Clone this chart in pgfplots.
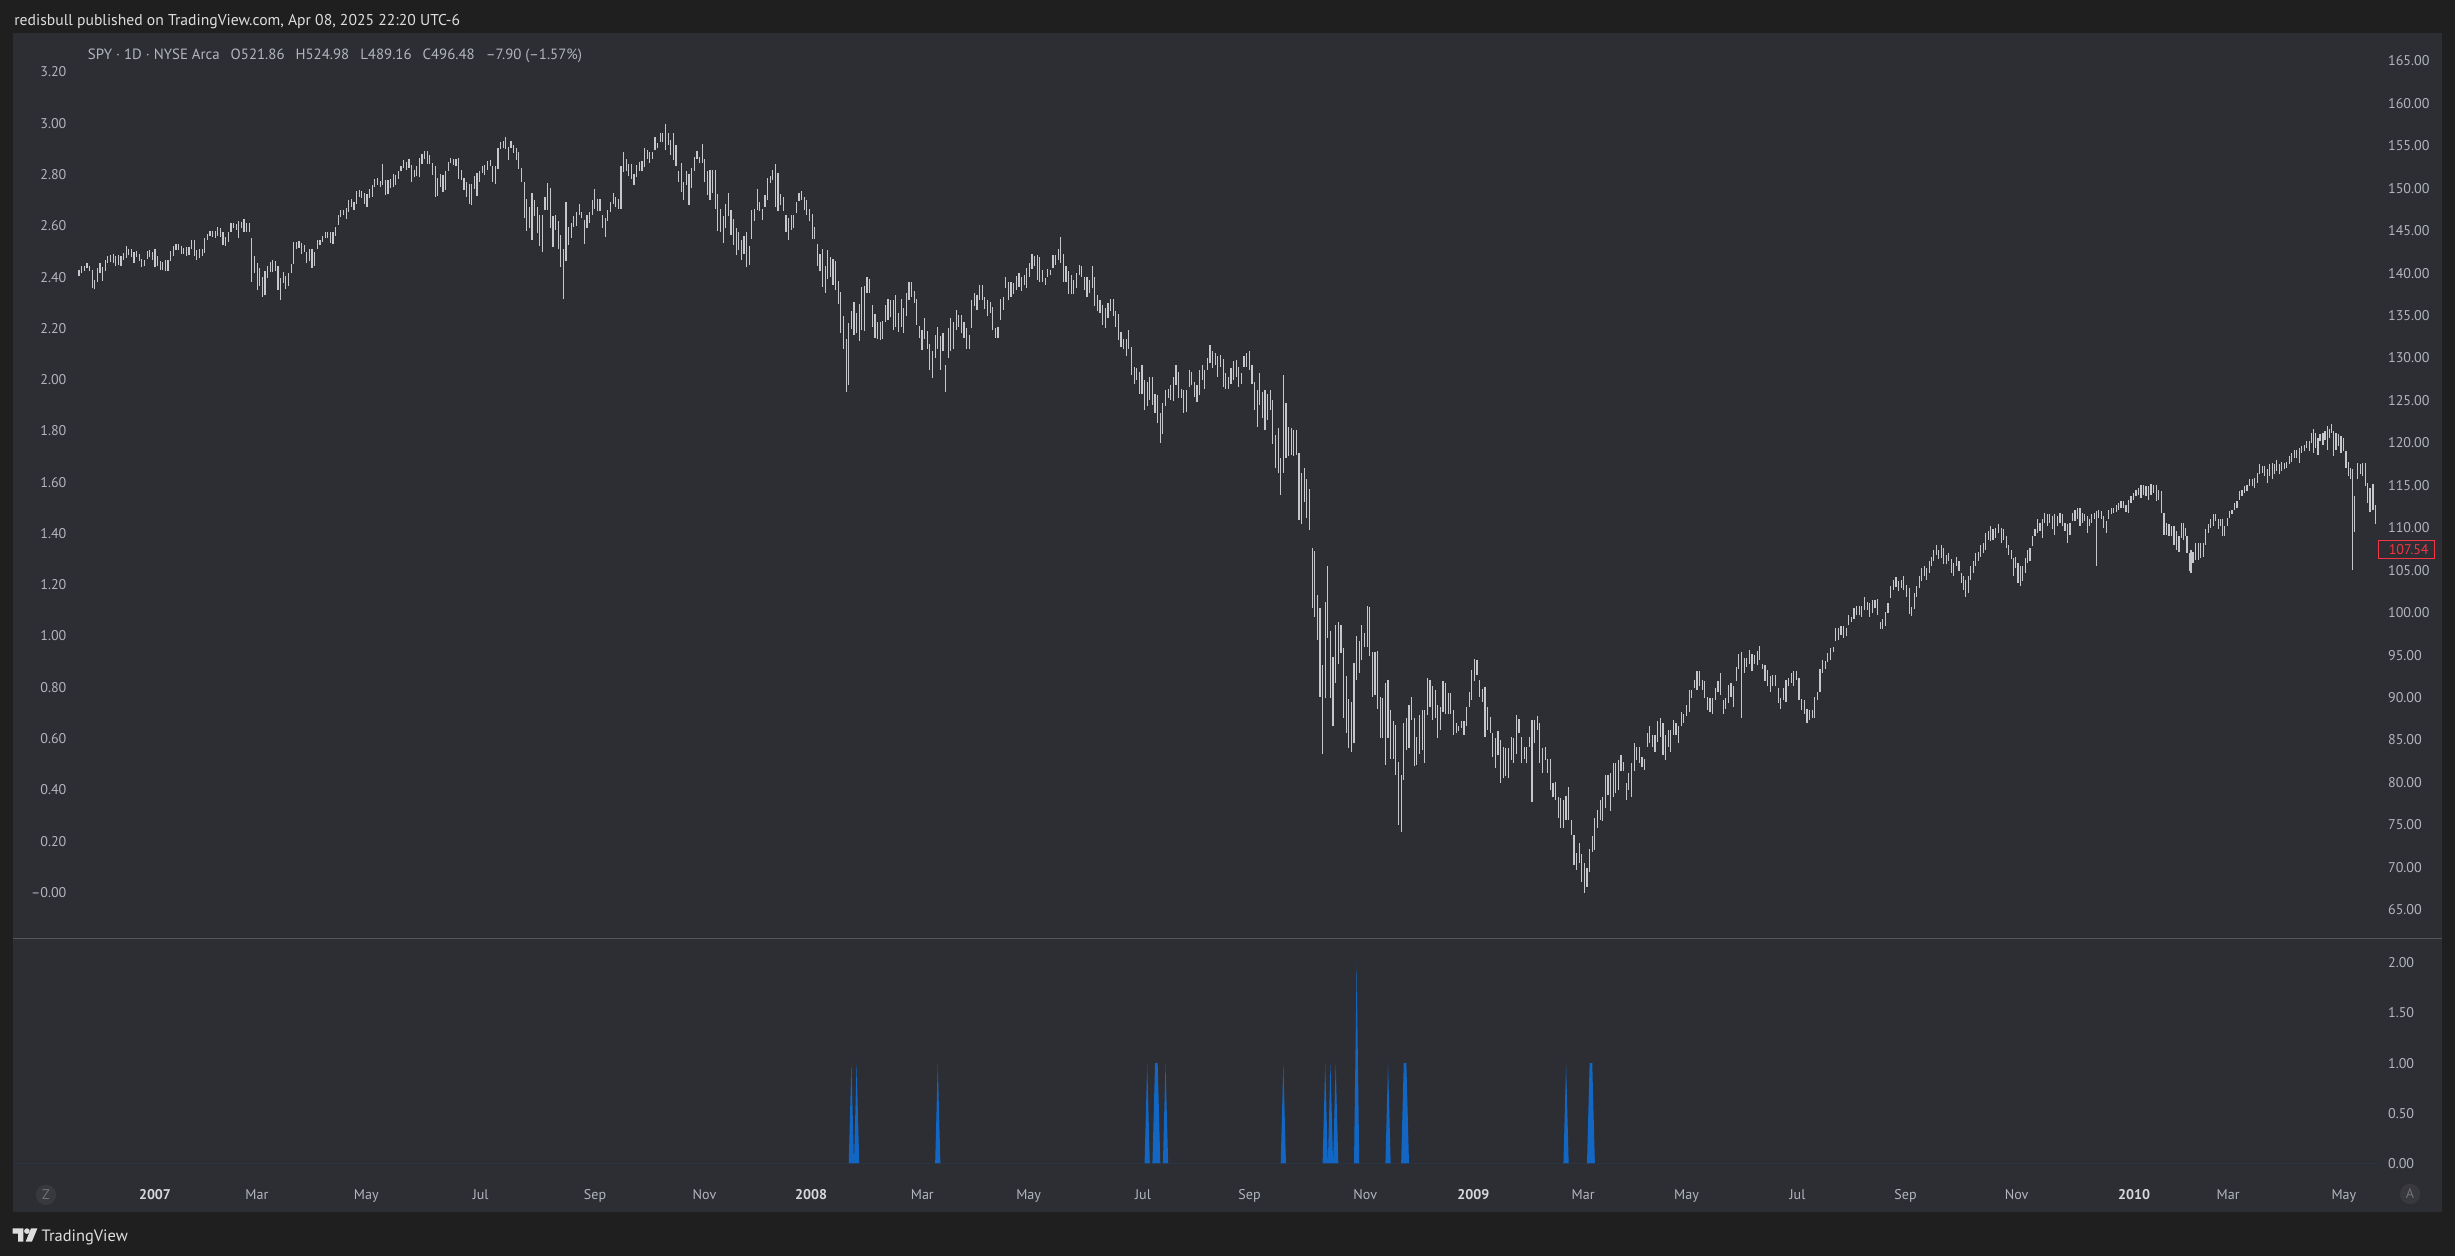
\documentclass[border=0pt]{standalone}
\usepackage{pgfplots}
\pgfplotsset{compat=1.18}
\usepackage{pgfplotstable}
\usepackage{fontspec}
\setmainfont{PT Sans}
\definecolor{outerbg}{RGB}{31,31,31}
\definecolor{panelbg}{RGB}{45,46,51}
\definecolor{labcol}{RGB}{178,181,190}
\definecolor{yearcol}{RGB}{214,216,222}
\definecolor{dimcol}{RGB}{112,115,125}
\definecolor{barcol}{RGB}{198,199,203}
\definecolor{spike}{RGB}{18,102,196}
\definecolor{sepcol}{RGB}{84,85,91}
\definecolor{redc}{RGB}{242,54,69}
\definecolor{headcol}{RGB}{222,222,222}

\pgfplotstableread[row sep=\\]{
x l h\\
0 139.7 140.4\\ 1 140.0 140.8\\ 2 140.3 140.9\\ 3 140.6 141.2\\ 4 140.2 140.9\\
5 138.2 140.4\\ 6 138.1 139.2\\ 7 139.0 140.6\\ 8 140.0 141.2\\ 9 139.1 140.7\\
10 140.2 141.6\\ 11 141.2 142.0\\ 12 141.3 142.1\\ 13 141.2 142.3\\ 14 140.8 142.0\\
15 141.0 142.1\\ 16 140.9 142.0\\ 17 141.6 142.4\\ 18 141.8 143.2\\ 19 142.1 142.8\\
20 141.9 142.8\\ 21 141.2 142.5\\ 22 141.9 142.6\\ 23 141.4 142.3\\ 24 140.7 141.7\\
25 140.8 141.6\\ 26 141.7 142.6\\ 27 141.9 142.7\\ 28 141.5 142.5\\ 29 140.7 142.8\\
30 140.9 142.0\\ 31 140.4 141.4\\ 32 140.4 141.3\\ 33 140.3 141.5\\ 34 140.3 141.6\\
35 141.4 142.6\\ 36 142.0 143.2\\ 37 142.7 143.4\\ 38 142.7 143.4\\ 39 142.3 143.2\\
40 142.3 143.0\\ 41 142.0 143.1\\ 42 142.2 143.1\\ 43 142.8 143.9\\ 44 142.0 143.9\\
45 141.6 142.7\\ 46 141.8 142.9\\ 47 142.0 142.9\\ 48 142.4 144.1\\ 49 143.9 144.6\\
50 144.4 145.0\\ 51 144.3 145.0\\ 52 144.2 145.0\\ 53 144.4 145.4\\ 54 144.3 145.3\\
55 143.3 144.9\\ 56 143.2 144.3\\ 57 143.7 144.9\\ 58 144.9 145.9\\ 59 145.3 145.9\\
60 145.1 145.8\\ 61 144.1 146.2\\ 62 145.3 146.0\\ 63 144.8 146.4\\ 64 144.8 145.9\\
65 144.8 145.9\\ 66 139.0 144.2\\ 67 140.0 142.0\\ 68 138.0 141.2\\ 69 138.5 140.6\\
70 137.2 139.6\\ 71 137.4 140.2\\ 72 139.4 140.8\\ 73 140.1 141.3\\ 74 140.1 141.5\\
75 140.2 141.4\\ 76 138.0 140.8\\ 77 136.8 139.4\\ 78 138.9 140.1\\ 79 138.1 139.7\\
80 138.5 140.0\\ 81 140.0 141.1\\ 82 141.1 143.7\\ 83 142.8 143.7\\ 84 143.0 143.8\\
85 142.3 143.6\\ 86 142.5 143.3\\ 87 141.2 142.5\\ 88 141.4 142.8\\ 89 140.6 142.8\\
90 140.9 142.5\\ 91 142.9 143.9\\ 92 143.3 143.9\\ 93 143.7 144.4\\ 94 144.1 144.8\\
95 144.2 144.9\\ 96 143.6 144.8\\ 97 143.4 144.9\\ 98 144.4 145.4\\ 99 145.7 146.9\\
100 146.6 147.4\\ 101 146.8 147.5\\ 102 146.4 147.7\\ 103 147.2 148.6\\ 104 147.8 148.7\\
105 147.4 148.4\\ 106 148.2 149.7\\ 107 149.0 149.8\\ 108 148.9 149.7\\ 109 148.2 149.5\\
110 147.8 149.3\\ 111 148.9 149.9\\ 112 149.0 150.4\\ 113 150.1 151.1\\ 114 150.4 151.2\\
115 150.1 150.9\\ 116 150.4 152.9\\ 117 149.2 151.0\\ 118 149.3 151.0\\ 119 150.0 151.1\\
120 150.2 151.7\\ 121 150.4 151.6\\ 122 151.1 152.0\\ 123 152.0 152.6\\ 124 152.4 153.3\\
125 152.2 153.1\\ 126 152.4 153.4\\ 127 150.8 152.7\\ 128 151.3 152.2\\ 129 151.4 152.6\\
130 151.3 153.6\\ 131 152.9 154.0\\ 132 153.4 154.4\\ 133 152.9 154.4\\ 134 152.9 153.9\\
135 151.6 153.0\\ 136 149.0 152.6\\ 137 149.1 151.2\\ 138 150.2 151.7\\ 139 149.6 151.6\\
140 149.8 152.0\\ 141 152.0 153.1\\ 142 153.0 153.6\\ 143 152.7 153.4\\ 144 152.6 153.4\\
145 151.1 153.6\\ 146 151.0 152.2\\ 147 149.8 151.2\\ 148 149.0 150.7\\ 149 148.2 150.5\\
150 148.0 150.5\\ 151 149.9 151.5\\ 152 149.1 151.8\\ 153 150.8 152.0\\ 154 151.8 152.6\\
155 151.6 152.7\\ 156 152.2 153.2\\ 157 152.6 153.3\\ 158 150.8 152.6\\ 159 150.5 152.6\\
160 152.3 154.8\\ 161 154.6 155.5\\ 162 154.7 155.6\\ 163 154.6 156.1\\ 164 153.3 154.9\\
165 154.8 155.6\\ 166 154.2 155.1\\ 167 153.3 154.7\\ 168 152.3 154.3\\ 169 150.8 152.4\\
170 146.5 150.8\\ 171 145.0 148.8\\ 172 145.3 147.8\\ 173 143.9 149.4\\ 174 146.7 148.6\\
175 144.7 147.8\\ 176 143.2 146.9\\ 177 142.5 146.9\\ 178 147.5 149.0\\ 179 147.5 150.6\\
180 145.3 150.0\\ 181 143.1 146.7\\ 182 145.1 146.9\\ 183 142.8 146.1\\ 184 140.7 144.5\\
185 137.0 142.9\\ 186 141.4 148.4\\ 187 143.3 145.5\\ 188 144.2 145.9\\ 189 145.5 146.7\\
190 145.6 147.2\\ 191 146.9 148.2\\ 192 146.5 147.2\\ 193 143.4 146.3\\ 194 145.3 146.9\\
195 145.9 147.2\\ 196 146.9 148.6\\ 197 147.6 149.9\\ 198 147.3 148.7\\ 199 147.3 148.7\\
200 145.3 146.9\\ 201 144.3 146.5\\ 202 146.2 147.4\\ 203 147.2 148.4\\ 204 148.2 149.4\\
205 147.8 149.0\\ 206 147.6 148.8\\ 207 147.6 152.6\\ 208 151.9 154.3\\ 209 152.1 153.5\\
210 151.4 152.9\\ 211 151.1 152.9\\ 212 150.4 151.7\\ 213 151.3 152.8\\ 214 152.0 153.1\\
215 152.1 153.2\\ 216 152.5 154.7\\ 217 153.5 154.5\\ 218 153.0 154.3\\ 219 153.5 154.3\\
220 154.5 156.1\\ 221 154.7 155.3\\ 222 155.5 156.5\\ 223 155.5 156.5\\ 224 154.5 157.6\\
225 155.1 156.5\\ 226 153.9 155.7\\ 227 153.3 156.5\\ 228 152.6 155.1\\ 229 150.8 152.0\\
230 149.6 153.0\\ 231 148.6 150.8\\ 232 150.4 152.0\\ 233 148.0 151.7\\ 234 150.0 152.4\\
235 152.0 153.7\\ 236 153.5 154.4\\ 237 153.0 153.7\\ 238 153.0 155.2\\ 239 150.7 153.4\\
240 149.2 152.1\\ 241 148.6 152.2\\ 242 149.4 152.2\\ 243 147.6 152.2\\ 244 145.0 149.3\\
245 144.9 147.6\\ 246 143.6 146.7\\ 247 145.3 148.2\\ 248 146.7 149.4\\ 249 144.5 147.4\\
250 143.3 146.4\\ 251 142.1 145.3\\ 252 142.7 144.9\\ 253 141.6 143.9\\ 254 142.3 144.4\\
255 140.7 144.8\\ 256 141.0 143.2\\ 257 144.0 147.4\\ 258 146.2 147.6\\ 259 147.4 149.9\\
260 147.3 148.4\\ 261 146.3 147.6\\ 262 147.8 149.2\\ 263 148.6 151.2\\ 264 150.6 151.5\\
265 151.0 152.2\\ 266 147.8 152.9\\ 267 147.3 151.8\\ 268 148.0 149.3\\ 269 147.3 149.0\\
270 144.9 146.9\\ 271 143.9 146.5\\ 272 145.1 146.9\\ 273 145.3 146.9\\ 274 147.1 148.4\\
275 148.5 149.4\\ 276 148.6 149.7\\ 277 147.4 149.0\\ 278 146.9 148.6\\ 279 146.1 147.6\\
280 144.0 147.0\\ 281 144.0 145.5\\ 282 140.9 143.4\\ 283 140.2 142.3\\ 284 138.4 142.8\\
285 137.7 140.8\\ 286 139.3 142.7\\ 287 139.6 141.9\\ 288 138.6 141.7\\ 289 138.0 141.4\\
290 136.4 139.1\\ 291 133.0 137.8\\ 292 131.1 135.0\\ 293 126.0 132.3\\ 294 126.8 134.1\\
295 133.4 135.5\\ 296 132.7 136.6\\ 297 132.9 135.3\\ 298 132.0 136.4\\ 299 133.3 138.4\\
300 133.2 138.5\\ 301 137.7 139.5\\ 302 137.7 139.3\\ 303 133.7 136.3\\ 304 132.4 135.2\\
305 132.2 134.3\\ 306 132.1 134.3\\ 307 132.3 134.4\\ 308 134.3 136.3\\ 309 134.5 137.0\\
310 134.8 136.9\\ 311 133.3 136.8\\ 312 133.7 137.4\\ 313 133.1 135.3\\ 314 133.7 137.0\\
315 132.9 135.9\\ 316 135.0 137.7\\ 317 136.8 139.0\\ 318 137.2 139.0\\ 319 136.5 137.9\\
320 133.9 136.9\\ 321 132.4 133.8\\ 322 130.9 133.3\\ 323 132.2 134.7\\ 324 131.1 133.2\\
325 128.6 131.7\\ 326 127.6 130.8\\ 327 130.0 132.7\\ 328 131.1 133.7\\ 329 128.6 132.6\\
330 130.8 132.9\\ 331 126.0 129.2\\ 332 130.0 133.5\\ 333 130.8 134.7\\ 334 131.1 134.3\\
335 133.3 135.7\\ 336 133.7 135.1\\ 337 132.9 135.1\\ 338 132.4 134.3\\ 339 131.1 133.5\\
340 131.1 132.7\\ 341 133.5 136.8\\ 342 136.1 137.7\\ 343 135.7 137.4\\ 344 136.8 138.6\\
345 136.8 138.6\\ 346 135.8 137.2\\ 347 134.9 136.8\\ 348 135.3 136.6\\ 349 133.3 136.0\\
350 132.4 133.5\\ 351 132.4 133.7\\ 352 134.5 136.9\\ 353 135.7 137.2\\ 354 138.2 139.6\\
355 136.8 139.0\\ 356 137.2 139.0\\ 357 137.6 138.8\\ 358 138.0 139.7\\ 359 138.4 140.0\\
360 137.9 139.6\\ 361 138.6 139.8\\ 362 138.2 140.6\\ 363 139.6 141.2\\ 364 140.5 142.3\\
365 140.8 142.0\\ 366 139.2 142.1\\ 367 139.0 141.9\\ 368 139.0 140.4\\ 369 138.6 139.4\\
370 139.6 140.5\\ 371 139.8 140.4\\ 372 140.6 142.1\\ 373 141.0 142.1\\ 374 141.6 142.8\\
375 141.2 144.3\\ 376 139.0 142.3\\ 377 139.0 140.8\\ 378 137.6 140.2\\ 379 137.6 139.8\\
380 137.6 139.2\\ 381 138.2 140.0\\ 382 139.8 141.0\\ 383 139.6 140.8\\ 384 138.0 139.6\\
385 137.2 139.6\\ 386 137.7 139.2\\ 387 138.2 140.8\\ 388 136.1 139.6\\ 389 135.5 137.4\\
390 135.3 136.8\\ 391 133.9 136.3\\ 392 133.5 135.9\\ 393 134.7 136.5\\ 394 135.5 137.0\\
395 134.9 137.0\\ 396 133.7 135.5\\ 397 132.1 135.2\\ 398 131.3 133.1\\ 399 131.1 132.3\\
400 130.2 132.3\\ 401 131.1 133.3\\ 402 128.0 131.3\\ 403 127.0 129.0\\ 404 127.4 128.8\\
405 125.8 128.4\\ 406 125.8 129.2\\ 407 123.9 127.4\\ 408 124.3 127.2\\ 409 125.1 127.8\\
410 124.5 127.8\\ 411 123.5 125.8\\ 412 122.3 125.6\\ 413 120.0 123.5\\ 414 121.1 124.7\\
415 124.3 126.2\\ 416 125.3 126.4\\ 417 125.1 126.8\\ 418 124.9 127.8\\ 419 126.8 129.2\\
420 125.3 128.4\\ 421 125.3 126.4\\ 422 123.5 126.2\\ 423 123.7 126.2\\ 424 126.6 128.6\\
425 126.8 128.4\\ 426 125.4 127.2\\ 427 124.8 126.8\\ 428 125.6 128.6\\ 429 127.4 129.2\\
430 126.4 128.6\\ 431 128.6 130.0\\ 432 129.4 131.5\\ 433 128.8 130.8\\ 434 129.2 130.6\\
435 127.8 130.2\\ 436 129.0 130.4\\ 437 126.6 129.9\\ 438 126.4 128.2\\ 439 126.4 127.8\\
440 127.0 128.8\\ 441 127.4 129.6\\ 442 127.8 129.8\\ 443 126.6 129.0\\ 444 127.0 128.2\\
445 129.0 130.2\\ 446 129.0 130.6\\ 447 128.6 130.8\\ 448 127.0 129.2\\ 449 123.9 127.2\\
450 121.9 126.2\\ 451 124.5 128.2\\ 452 122.9 126.0\\ 453 121.5 126.2\\ 454 122.7 125.8\\
455 123.9 126.2\\ 456 119.9 125.0\\ 457 117.0 120.9\\ 458 116.4 121.7\\ 459 113.9 118.2\\
460 116.5 128.0\\ 461 118.2 124.7\\ 462 118.4 121.9\\ 463 118.6 121.7\\ 464 118.4 121.5\\
465 118.6 121.5\\ 466 110.9 118.8\\ 467 110.5 116.5\\ 468 113.0 117.0\\ 469 111.1 115.8\\
470 109.7 114.6\\ 471 100.5 107.6\\ 472 99.5 107.3\\ 473 96.8 102.1\\ 474 90.1 100.5\\
475 83.4 93.8\\ 476 89.9 101.3\\ 477 97.0 105.5\\ 478 89.9 97.8\\ 479 86.6 94.8\\
480 91.7 98.5\\ 481 94.0 98.9\\ 482 95.2 98.5\\ 483 87.6 95.8\\ 484 85.8 92.5\\
485 84.0 89.8\\ 486 83.6 89.5\\ 487 84.6 94.1\\ 488 92.1 97.2\\ 489 92.9 96.6\\
490 94.4 98.5\\ 491 96.0 97.6\\ 492 96.0 100.8\\ 493 94.9 100.7\\ 494 90.1 95.4\\
495 90.3 95.4\\ 496 88.7 95.5\\ 497 85.2 90.1\\ 498 85.2 90.0\\ 499 82.1 91.7\\
500 85.2 92.1\\ 501 82.8 88.5\\ 502 82.8 87.2\\ 503 80.9 86.8\\ 504 75.0 82.4\\
505 74.2 80.9\\ 506 80.3 87.0\\ 507 83.8 87.6\\ 508 84.0 89.1\\ 509 87.4 90.1\\
510 81.9 87.6\\ 511 82.1 85.4\\ 512 83.4 87.9\\ 513 83.8 88.5\\ 514 82.3 88.5\\
515 87.9 92.3\\ 516 88.9 92.1\\ 517 87.4 91.3\\ 518 87.6 90.9\\ 519 85.2 89.1\\
520 86.2 88.9\\ 521 88.3 91.9\\ 522 88.1 91.7\\ 523 88.1 90.5\\ 524 88.1 90.5\\
525 85.6 88.5\\ 526 85.8 87.0\\ 527 86.0 86.6\\ 528 86.4 87.2\\ 529 85.6 87.2\\
530 86.6 88.9\\ 531 88.9 90.7\\ 532 89.7 93.2\\ 533 91.9 94.5\\ 534 92.7 94.4\\
535 90.1 92.1\\ 536 89.5 91.0\\ 537 85.4 91.2\\ 538 86.2 88.9\\ 539 85.8 87.7\\
540 83.0 85.8\\ 541 81.7 85.2\\ 542 83.2 86.0\\ 543 79.9 85.0\\ 544 80.5 84.2\\
545 80.7 84.0\\ 546 80.5 84.0\\ 547 82.6 85.4\\ 548 82.3 85.2\\ 549 83.4 87.9\\
550 85.8 87.5\\ 551 82.3 85.4\\ 552 82.8 84.2\\ 553 82.3 84.2\\ 554 84.2 85.3\\
555 77.7 87.4\\ 556 84.6 87.4\\ 557 86.2 87.8\\ 558 82.3 87.0\\ 559 81.1 84.0\\
560 82.6 84.2\\ 561 81.1 82.8\\ 562 79.1 82.8\\ 563 78.3 79.9\\ 564 77.9 80.1\\
565 75.8 78.3\\ 566 74.6 78.1\\ 567 74.6 77.9\\ 568 75.6 78.4\\ 569 75.6 79.5\\
570 73.8 75.6\\ 571 70.3 73.8\\ 572 69.7 71.7\\ 573 70.5 72.8\\ 574 68.3 71.6\\
575 67.0 70.5\\ 576 67.7 69.9\\ 577 69.4 72.2\\ 578 71.8 73.7\\ 579 72.0 75.8\\
580 74.6 76.8\\ 581 75.6 77.9\\ 582 75.4 78.3\\ 583 77.0 80.9\\ 584 78.5 80.9\\
585 76.6 81.1\\ 586 78.3 82.3\\ 587 78.7 82.3\\ 588 79.1 82.6\\ 589 81.3 83.2\\
590 81.3 82.4\\ 591 77.9 79.9\\ 592 79.1 81.1\\ 593 78.3 82.3\\ 594 81.3 84.6\\
595 82.6 84.2\\ 596 82.3 84.2\\ 597 81.8 83.0\\ 598 81.5 82.8\\ 599 84.2 85.8\\
600 84.6 86.6\\ 601 84.2 85.6\\ 602 83.6 85.6\\ 603 84.8 87.2\\ 604 85.4 87.6\\
605 83.2 87.0\\ 606 82.6 85.6\\ 607 84.2 86.2\\ 608 83.6 86.2\\ 609 85.6 87.4\\
610 85.6 87.0\\ 611 84.6 86.6\\ 612 86.6 88.3\\ 613 87.0 88.1\\ 614 87.8 89.1\\
615 88.3 90.9\\ 616 89.9 90.9\\ 617 91.1 92.1\\ 618 90.9 93.1\\ 619 91.3 93.1\\
620 90.9 92.1\\ 621 89.9 91.9\\ 622 88.5 90.1\\ 623 88.3 89.9\\ 624 88.1 89.9\\
625 89.7 91.1\\ 626 90.7 91.9\\ 627 90.3 92.9\\ 628 88.1 89.7\\ 629 88.7 89.9\\
630 89.3 91.5\\ 631 90.1 91.7\\ 632 88.9 91.3\\ 633 91.9 93.6\\ 634 93.4 95.1\\
635 87.6 95.4\\ 636 92.9 94.6\\ 637 93.6 94.6\\ 638 94.0 95.6\\ 639 93.1 95.1\\
640 94.0 95.0\\ 641 93.8 95.5\\ 642 94.4 96.1\\ 643 93.4 94.0\\ 644 91.9 93.8\\
645 91.3 93.2\\ 646 90.7 92.5\\ 647 91.3 92.7\\ 648 91.3 92.7\\ 649 89.3 91.1\\
650 88.7 89.9\\ 651 89.7 91.1\\ 652 89.5 92.1\\ 653 91.3 92.3\\ 654 91.7 92.9\\
655 91.3 93.1\\ 656 92.1 93.1\\ 657 89.7 92.3\\ 658 88.5 89.8\\ 659 88.1 89.7\\
660 87.0 88.7\\ 661 87.4 88.5\\ 662 87.6 88.5\\ 663 87.6 90.1\\ 664 89.7 90.7\\
665 90.7 93.4\\ 666 92.9 94.4\\ 667 93.4 94.3\\ 668 94.2 95.2\\ 669 94.4 95.8\\
670 95.4 96.0\\ 671 96.6 98.2\\ 672 96.8 98.2\\ 673 97.4 98.4\\ 674 97.0 98.4\\
675 97.2 98.2\\ 676 98.5 99.7\\ 677 98.9 99.5\\ 678 99.3 100.5\\ 679 99.7 100.8\\
680 99.7 100.8\\ 681 99.5 100.8\\ 682 100.3 101.9\\ 683 100.3 101.3\\ 684 99.5 101.1\\
685 99.9 101.5\\ 686 100.5 101.5\\ 687 99.7 101.6\\ 688 98.1 98.9\\ 689 98.1 99.3\\
690 98.4 100.1\\ 691 99.9 101.1\\ 692 101.7 103.1\\ 693 102.7 103.9\\ 694 103.0 104.2\\
695 102.5 103.7\\ 696 102.9 103.9\\ 697 102.7 104.3\\ 698 101.9 103.3\\
699.1 99.8 102.9\\ 700.0 99.6 100.7\\ 701.0 100.4 102.3\\ 702.0 101.9 103.1\\ 702.9 102.9 104.3\\
703.9 103.7 105.3\\ 704.8 104.3 105.5\\ 705.8 103.9 105.3\\ 706.7 104.7 106.1\\ 707.5 105.5 106.6\\
708.5 106.1 107.4\\ 709.5 106.8 108.0\\ 710.4 106.3 107.4\\ 711.4 106.4 108.0\\ 712.3 105.7 107.6\\
713.3 105.7 106.8\\ 714.2 106.1 107.0\\ 715.2 104.7 106.3\\ 716.1 104.3 105.9\\ 717.1 105.5 106.6\\
718.1 104.9 106.1\\ 719.0 103.5 104.7\\ 719.8 102.7 104.3\\ 720.6 101.9 103.9\\ 721.6 102.3 104.3\\
722.6 103.9 105.5\\ 723.5 104.7 106.1\\ 724.5 105.5 107.0\\ 725.4 106.1 107.2\\ 726.4 106.6 108.0\\
727.3 107.0 108.2\\ 728.3 107.4 109.4\\ 729.2 108.6 109.6\\ 730.2 108.4 110.2\\ 731.1 108.6 109.8\\
732.1 108.8 110.0\\ 733.3 109.4 110.4\\ 734.3 108.2 110.0\\ 735.2 108.6 109.8\\ 736.2 107.6 109.0\\
737.0 106.8 108.0\\ 738.0 106.3 107.4\\ 738.8 104.3 106.4\\ 739.7 105.3 106.6\\ 740.6 103.5 105.9\\
741.5 103.1 105.5\\ 742.5 103.7 105.5\\ 743.4 104.7 106.4\\ 744.2 105.9 107.4\\ 745.2 106.1 107.6\\
746.1 107.8 109.0\\ 747.1 109.0 109.8\\ 748.1 109.4 111.0\\ 749.0 109.6 110.6\\ 750.0 108.8 111.0\\
750.9 110.6 111.8\\ 751.9 110.2 111.6\\ 752.8 110.6 111.6\\ 753.8 109.8 111.4\\ 754.7 109.1 111.6\\
755.7 110.2 111.4\\ 756.7 110.6 111.8\\ 757.6 110.2 111.6\\ 758.6 109.6 110.6\\ 759.5 108.2 110.4\\
760.5 109.2 110.6\\ 761.4 110.8 111.8\\ 762.4 110.8 112.1\\ 763.3 111.0 112.3\\ 764.3 110.2 112.3\\
765.3 110.6 111.8\\ 766.1 110.8 111.6\\ 767.1 109.4 111.4\\ 768.0 110.2 111.0\\ 768.8 110.6 111.6\\
769.8 111.0 111.8\\ 770.6 105.5 112.0\\ 771.5 111.2 112.1\\ 772.5 111.0 112.0\\ 773.4 110.0 111.4\\
774.4 109.4 110.8\\ 775.2 111.0 112.1\\ 776.2 111.6 112.3\\ 777.1 111.8 112.3\\ 778.1 111.9 112.7\\
779.0 112.1 112.9\\ 780.0 112.3 113.1\\ 781.0 112.3 113.1\\ 781.9 111.9 112.7\\ 782.9 111.8 113.3\\
783.8 112.9 113.7\\ 784.8 113.3 114.1\\ 785.7 113.7 114.5\\ 786.7 113.9 114.7\\ 787.6 113.5 115.0\\
788.6 113.9 115.1\\ 789.5 113.7 114.9\\ 790.5 113.3 114.9\\ 791.4 113.9 115.2\\ 792.4 114.1 115.1\\
793.4 113.1 115.1\\ 794.2 113.3 114.5\\ 795.3 111.8 114.3\\ 796.4 109.2 111.8\\ 797.3 109.2 110.6\\
798.3 109.0 110.4\\ 799.2 109.0 110.2\\ 800.2 108.0 110.2\\ 801.1 107.4 109.6\\ 802.1 107.2 109.0\\
803.1 108.8 110.6\\ 803.9 108.6 110.6\\ 804.5 109.0 110.0\\ 805.2 107.0 109.0\\ 806.0 104.9 107.0\\
806.7 104.7 107.4\\ 807.5 105.9 107.2\\ 808.5 106.2 108.2\\ 809.5 106.2 108.2\\ 810.4 106.4 108.2\\
811.4 106.6 108.2\\ 812.3 108.0 109.9\\ 813.3 109.4 110.4\\ 814.2 110.0 111.0\\ 815.2 110.2 111.6\\
816.1 110.8 111.6\\ 817.1 109.8 111.0\\ 818.0 110.2 111.0\\ 818.7 109.0 111.0\\ 819.6 109.0 110.2\\
820.5 110.2 111.2\\ 821.5 111.2 112.0\\ 822.4 111.6 112.1\\ 823.4 112.1 112.9\\ 824.3 112.3 113.1\\
825.3 113.3 114.3\\ 826.2 113.7 114.5\\ 827.2 114.1 114.9\\ 828.1 114.3 115.1\\ 829.1 114.9 115.7\\
830.1 114.9 115.7\\ 831.0 114.7 115.9\\ 832.0 115.3 116.5\\ 832.9 116.3 117.5\\ 833.9 116.5 117.3\\
834.8 116.1 117.3\\ 835.8 115.3 116.9\\ 836.7 116.1 117.5\\ 837.7 115.7 117.6\\ 838.5 116.3 117.5\\
839.5 116.7 118.0\\ 840.4 116.3 117.5\\ 841.4 116.7 117.8\\ 842.3 116.9 117.6\\ 843.3 117.1 117.8\\
844.2 117.5 118.4\\ 845.2 117.8 118.8\\ 846.1 118.2 119.2\\ 847.1 118.2 119.2\\ 848.1 117.6 119.4\\
849.0 118.8 119.6\\ 850.0 119.0 119.8\\ 850.9 119.4 120.2\\ 851.9 119.0 120.2\\ 852.6 120.0 121.2\\
853.5 118.8 121.6\\ 854.3 119.4 121.2\\ 855.2 118.6 120.6\\ 856.0 120.2 121.0\\ 857.1 119.8 121.2\\
857.9 120.4 121.4\\ 858.7 119.2 122.0\\ 859.5 120.6 121.6\\ 860.3 121.2 122.2\\ 861.2 118.4 121.4\\
862.1 119.2 121.2\\ 863.1 119.6 121.0\\ 864.0 118.8 120.8\\ 865.0 119.0 120.6\\ 865.9 117.1 119.0\\
866.9 116.1 117.8\\ 867.7 115.7 117.1\\ 868.4 105.0 116.9\\ 869.1 109.5 113.8\\ 870.4 115.7 117.6\\
871.4 116.3 117.5\\ 872.3 116.1 117.6\\ 873.4 114.9 117.6\\ 874.1 112.9 115.3\\ 875.1 111.9 114.7\\
876.2 112.1 115.2\\ 877.1 110.4 112.7\\
}\bars

\begin{document}
\begin{tikzpicture}[x=1pt,y=1pt]
\fill[outerbg] (0pt,0pt) rectangle (1568pt,802.2pt);
\fill[panelbg] (8pt,27.9pt) rectangle (1559.7pt,781.2pt);
\node[anchor=base west, inner sep=0pt, text=headcol, font=\fontsize{10}{12}\selectfont] at (9pt,785.6pt) {redisbull published on TradingView.com, Apr 08, 2025 22:20 UTC-6};
\node[anchor=base west, inner sep=0pt, text=labcol, font=\fontsize{9.5}{11}\selectfont] at (56pt,764.3pt) {SPY · 1D · NYSE Arca\hspace{7pt}O521.86\hspace{7pt}H524.98\hspace{7pt}L489.16\hspace{7pt}C496.48\hspace{7pt}–7.90 (–1.57\%)};

% left scale (no series drawn against it)
\begin{axis}[at={(8pt,203.2pt)}, anchor=south west, scale only axis,
  width=1512pt, height=578pt,
  xmin=-25.42, xmax=878.89, ymin=-0.1771, ymax=3.3527,
  axis line style={draw=none}, major tick length=0pt, xtick=\empty,
  ytick={0,0.2,0.4,0.6,0.8,1,1.2,1.4,1.6,1.8,2,2.2,2.4,2.6,2.8,3,3.2},
  yticklabels={–0.00,0.20,0.40,0.60,0.80,1.00,1.20,1.40,1.60,1.80,2.00,2.20,2.40,2.60,2.80,3.00,3.20},
  yticklabel pos=left,
  yticklabel style={anchor=east, inner sep=0pt, xshift=34.6pt, text=labcol, font=\fontsize{9}{10}\selectfont}]
\end{axis}

% price pane
\begin{axis}[at={(8pt,203.2pt)}, anchor=south west, scale only axis,
  width=1512pt, height=578pt,
  xmin=-25.42, xmax=878.89, ymin=61.68, ymax=168.32,
  axis line style={draw=none}, major tick length=0pt, xtick=\empty,
  ytick={65,70,...,165}, yticklabel pos=right,
  /pgf/number format/assume math mode=true,
  yticklabel style={anchor=west, inner sep=0pt, xshift=5pt, text=labcol, font=\fontsize{9}{10}\selectfont,
    /pgf/number format/.cd, fixed, fixed zerofill, precision=2},
  clip=false]
\addplot[draw=none, mark=none, forget plot,
  error bars/.cd, y dir=plus, y explicit, error mark=none,
  error bar style={draw=barcol, solid, line width=0.75pt}]
  table[x=x, y=l, y error expr=\thisrow{h}-\thisrow{l}] {\bars};
\end{axis}

% lower pane
\begin{axis}[at={(8pt,50.2pt)}, anchor=south west, scale only axis,
  width=1512pt, height=152pt,
  xmin=-25.42, xmax=878.89, ymin=-0.1406, ymax=2.2344,
  axis line style={draw=none}, major tick length=0pt,
  ytick={0,0.5,1,1.5,2}, yticklabel pos=right,
  /pgf/number format/assume math mode=true,
  yticklabel style={anchor=west, inner sep=0pt, xshift=5pt, text=labcol, font=\fontsize{9}{10}\selectfont,
    /pgf/number format/.cd, fixed, fixed zerofill, precision=2},
  xtick={29,67.9,109.7,153.4,197.1,238.9,279.6,322.1,362.7,406.4,447.1,491.3,532.6,574.5,614,656.4,697.7,740.1,785,820.9,865.1},
  xticklabels={{\textcolor{yearcol}{\textbf{2007}}},Mar,May,Jul,Sep,Nov,{\textcolor{yearcol}{\textbf{2008}}},Mar,May,Jul,Sep,Nov,{\textcolor{yearcol}{\textbf{2009}}},Mar,May,Jul,Sep,Nov,{\textcolor{yearcol}{\textbf{2010}}},Mar,May},
  xticklabel style={anchor=base, inner sep=0pt, yshift=-14pt, text=labcol, font=\fontsize{9}{10}\selectfont},
  clip=false]
\addplot[fill=spike, draw=none, forget plot] coordinates {
(-25,0) (294,0) (295,1) (296,0) (297,1) (298,0)
(327,0) (328,1) (329,0)
(407,0) (408,1) (409,0) (410,0) (411,1) (412,1) (413,0)
(414,0) (415,1) (416,0)
(459,0) (460,1) (461,0)
(475,0) (476,1) (477,0) (478,1) (479,0) (480,1) (481,0)
(487,0) (488,2) (489,0)
(499,0) (500,1) (501,0)
(505,0) (506,1) (507,1) (508,0)
(567,0) (568,1) (569,0)
(576,0) (577,1) (578,1) (579,0)
(878,0)};
\end{axis}

% pane separator
\draw[sepcol, line width=0.65pt] (8pt,202.5pt) -- (1559.7pt,202.5pt);

% last price label
\draw[redc, fill=panelbg, line width=0.6pt] (1519pt,456.9pt) rectangle (1554.6pt,445.4pt);
\node[anchor=west, inner sep=0pt, text=redc, font=\fontsize{9}{10}\selectfont] at (1525.5pt,451.2pt) {107.54};

% scale buttons
\fill[panelbg!95!white] (29.4pt,39.0pt) circle (6.5pt);
\node[inner sep=0pt, text=dimcol, font=\fontsize{9}{10}\selectfont] at (29.4pt,39.0pt) {Z};
\fill[panelbg!95!white] (1539.3pt,39.6pt) circle (6.5pt);
\node[inner sep=0pt, text=dimcol, font=\fontsize{9}{10}\selectfont] at (1539.3pt,39.6pt) {A};

% TradingView logo
\fill[headcol] (8pt,17.7pt) -- (15pt,17.7pt) -- (15pt,9.2pt) -- (11.6pt,9.2pt) -- (11.6pt,14.3pt) -- (8pt,14.3pt) -- cycle;
\fill[headcol] (17.2pt,15.9pt) circle (1.8pt);
\fill[headcol] (19.8pt,17.7pt) -- (23.9pt,17.7pt) -- (20.4pt,9.2pt) -- (16.4pt,9.2pt) -- cycle;
\node[anchor=base west, inner sep=0pt, text=headcol, font=\fontsize{10.5}{12}\selectfont] at (26.4pt,9.2pt) {TradingView};
\end{tikzpicture}
\end{document}
